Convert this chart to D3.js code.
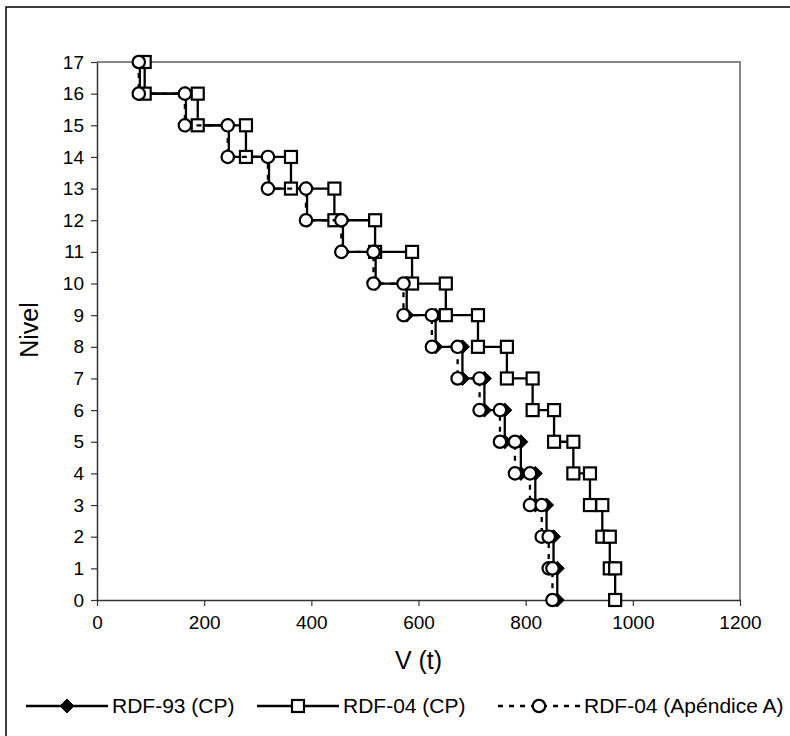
<!DOCTYPE html>
<html>
<head>
<meta charset="utf-8">
<script src="https://cdn.jsdelivr.net/npm/d3@7"></script>
<style>
  html, body { margin: 0; padding: 0; background: #fff; }
  svg { display: block; font-family: "Liberation Sans", Arial, sans-serif; }
</style>
</head>
<body>
<svg id="chart" width="790" height="736"></svg>
<script>
// Stories (shear between level s-1 and level s)
const stories = [17, 16, 15, 14, 13, 12, 11, 10, 9, 8, 7, 6, 5, 4, 3, 2, 1];
// Story shear V (t)
const rdf93CP = [80, 166, 246, 321, 392, 459, 520, 578, 632, 682, 723, 761, 791, 818, 839, 852, 859];
const rdf04CP = [89, 188, 278, 362, 443, 519, 588, 651, 711, 765, 813, 853, 889, 920, 943, 957, 967];
const rdf04ApA = [78, 164, 244, 319, 390, 456, 516, 572, 625, 673, 714, 752, 780, 808, 830, 843, 850];
const seriesNames = ["RDF-93 (CP)", "RDF-04 (CP)", "RDF-04 (Apéndice A)"];
const xTicks = [0, 200, 400, 600, 800, 1000, 1200];
const yTicks = d3.range(0, 18);

const svg = d3.select("#chart");
const m = { left: 97, right: 740, top: 62, bottom: 600 };

const x = d3.scaleLinear().domain([0, 1200]).range([m.left, m.right]);
const y = d3.scaleLinear().domain([0, 17]).range([m.bottom, m.top]);

// outer border
svg.append("rect").attr("x", 6).attr("y", 7).attr("width", 900).attr("height", 900)
  .attr("fill", "none").attr("stroke", "#000").attr("stroke-width", 1.5);

// plot border (top/right grey)
svg.append("path")
  .attr("d", `M${m.left},${m.top}H${m.right}V${m.bottom}`)
  .attr("fill", "none").attr("stroke", "#878787").attr("stroke-width", 2);

// axes
const xAxis = svg.append("g").attr("transform", `translate(0,${m.bottom})`)
  .call(d3.axisBottom(x).tickValues(xTicks).tickFormat(d3.format("d"))
    .tickSize(6).tickSizeOuter(0).tickPadding(10));
const yAxis = svg.append("g").attr("transform", `translate(${m.left},0)`)
  .call(d3.axisLeft(y).tickValues(yTicks).tickFormat(d3.format("d"))
    .tickSize(6).tickSizeOuter(0).tickPadding(7));
[xAxis, yAxis].forEach(g => {
  g.select(".domain").attr("stroke", "#333").attr("stroke-width", 1.5);
  g.selectAll(".tick line").attr("stroke", "#333").attr("stroke-width", 1.2);
  g.selectAll(".tick text").attr("fill", "#000").attr("font-size", 19)
    .attr("font-family", "Liberation Sans, Arial, sans-serif");
});

// axis titles
svg.append("text").attr("x", (m.left + m.right) / 2).attr("y", 669)
  .attr("text-anchor", "middle").attr("font-size", 25).text("V (t)");
svg.append("text").attr("transform", "translate(38,330) rotate(-90)")
  .attr("text-anchor", "middle").attr("font-size", 25).text("Nivel");

function stepPoints(vals) {
  const pts = [];
  stories.forEach((s, i) => { pts.push([vals[i], s]); pts.push([vals[i], s - 1]); });
  return pts;
}
const line = d3.line().x(d => x(d[0])).y(d => y(d[1]));

function drawMarker(g, type, cx, cy) {
  if (type === "diamond") {
    const h = 7;
    g.append("path").attr("d", `M${cx},${cy - h}L${cx + h},${cy}L${cx},${cy + h}L${cx - h},${cy}Z`)
      .attr("fill", "#000").attr("stroke", "#000").attr("stroke-width", 1);
  } else if (type === "square") {
    g.append("rect").attr("x", cx - 6).attr("y", cy - 6).attr("width", 12).attr("height", 12)
      .attr("fill", "#fff").attr("stroke", "#000").attr("stroke-width", 2.2);
  } else {
    g.append("circle").attr("cx", cx).attr("cy", cy).attr("r", 6.2)
      .attr("fill", "#fff").attr("stroke", "#000").attr("stroke-width", 2.2);
  }
}

const series = [
  { vals: rdf93CP, marker: "diamond", dash: null },
  { vals: rdf04CP, marker: "square", dash: null },
  { vals: rdf04ApA, marker: "circle", dash: "5,6" }
];

series.forEach(s => {
  const g = svg.append("g");
  const pts = stepPoints(s.vals);
  g.append("path").attr("d", line(pts)).attr("fill", "none").attr("stroke", "#000")
    .attr("stroke-width", 2.3).attr("stroke-dasharray", s.dash);
  pts.forEach(p => drawMarker(g, s.marker, x(p[0]), y(p[1])));
});

// legend
const legY = 706;
const legend = [
  { x0: 26, x1: 108, tx: 112 },
  { x0: 257, x1: 339, tx: 343 },
  { x0: 498, x1: 580, tx: 584 }
];
legend.forEach((l, i) => {
  const g = svg.append("g");
  g.append("line").attr("x1", l.x0).attr("x2", l.x1).attr("y1", legY).attr("y2", legY)
    .attr("stroke", "#000").attr("stroke-width", 2.3).attr("stroke-dasharray", series[i].dash);
  drawMarker(g, series[i].marker, (l.x0 + l.x1) / 2, legY);
  g.append("text").attr("x", l.tx).attr("y", legY).attr("dy", "0.35em")
    .attr("font-size", 21).text(seriesNames[i]);
});
</script>
</body>
</html>
